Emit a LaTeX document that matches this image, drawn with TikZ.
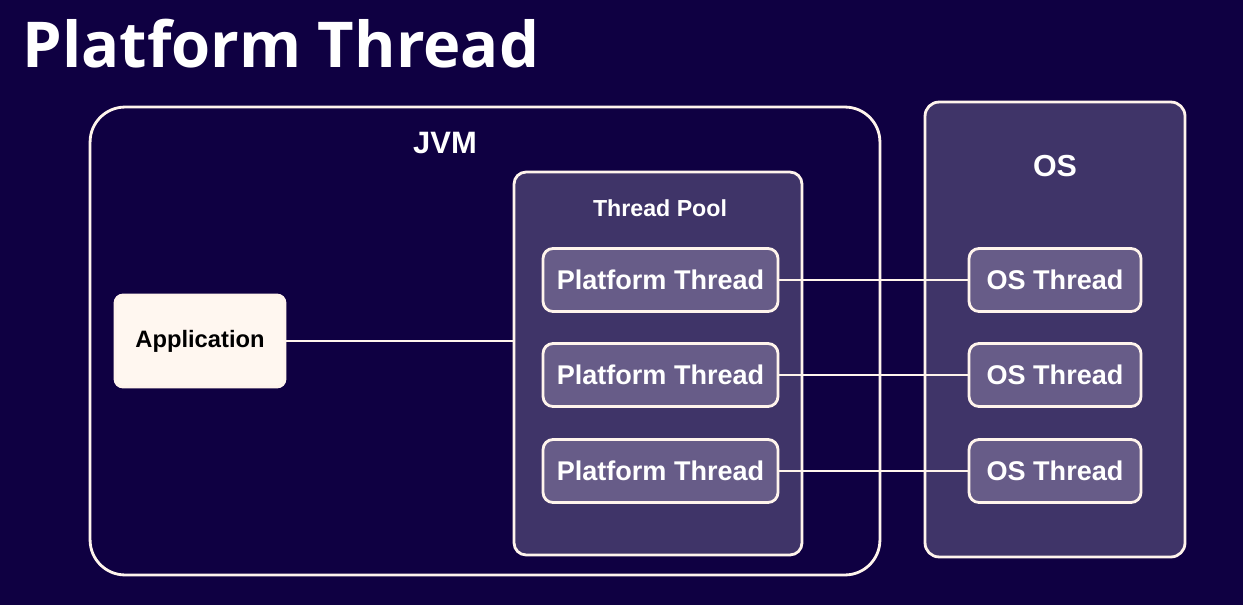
\documentclass[tikz,border=0pt]{standalone}
\usepackage{fontspec}
\setmainfont{Liberation Sans}
\newfontfamily\titlefont{Open Sans}
\definecolor{bgnavy}{HTML}{0F0042}
\definecolor{poolfill}{HTML}{3F3468}
\definecolor{threadfill}{HTML}{675C88}
\definecolor{edgewhite}{HTML}{FFF4EC}
\definecolor{appfill}{HTML}{FFF7F0}

\begin{document}
\begin{tikzpicture}[x=0.02cm,y=-0.02cm,
    wire/.style={draw=edgewhite,line width=1.6pt},
    box/.style={draw=edgewhite,line width=1.6pt,inner sep=0pt},
    threadbox/.style={box,fill=threadfill,rounded corners=0.2cm,
        minimum height=1.26cm,text=white,font=\bfseries\fontsize{15.4}{18}\selectfont},
    label/.style={text=white,font=\bfseries\fontsize{13.2}{16}\selectfont}]
    \fill[bgnavy] (0,0) rectangle (1243,605);
    \useasboundingbox (0,0) rectangle (1243,605);

    \node[anchor=base west,inner sep=0pt,text=white,
        font=\titlefont\bfseries\fontsize{36}{40}\selectfont] (title) at (22,67) {Platform Thread};

    % JVM side
    \node[box,rounded corners=0.7cm,minimum width=15.8cm,minimum height=9.36cm]
        (jvm) at (485,341) {};
    \node[label,font=\bfseries\fontsize{17.6}{20}\selectfont] (jvmlabel) at (445,143) {JVM};
    \node[box,fill=appfill,rounded corners=0.16cm,minimum width=3.4cm,minimum height=1.84cm,
        font=\bfseries\fontsize{13.5}{16}\selectfont] (app) at (200,341) {Application};
    \node[box,fill=poolfill,rounded corners=0.24cm,minimum width=5.76cm,minimum height=7.66cm]
        (pool) at (658,363.5) {};
    \node[label] (poollabel) at (660,208) {Thread Pool};
    \node[threadbox,minimum width=4.7cm] (pt1) at (660.5,280) {Platform Thread};
    \node[threadbox,minimum width=4.7cm] (pt2) at (660.5,375) {Platform Thread};
    \node[threadbox,minimum width=4.7cm] (pt3) at (660.5,471) {Platform Thread};

    % OS side
    \node[box,fill=poolfill,rounded corners=0.28cm,minimum width=5.2cm,minimum height=9.1cm]
        (os) at (1055,329.5) {};
    \node[label,font=\bfseries\fontsize{17.3}{20}\selectfont] (oslabel) at (1055,166) {OS};
    \node[threadbox,minimum width=3.44cm] (ot1) at (1055,280) {OS Thread};
    \node[threadbox,minimum width=3.44cm] (ot2) at (1055,375) {OS Thread};
    \node[threadbox,minimum width=3.44cm] (ot3) at (1055,471) {OS Thread};

    \draw[wire] (app.east) -- (pool.west |- app.east);
    \draw[wire] (pt1.east) -- (ot1.west);
    \draw[wire] (pt2.east) -- (ot2.west);
    \draw[wire] (pt3.east) -- (ot3.west);
\end{tikzpicture}
\end{document}
